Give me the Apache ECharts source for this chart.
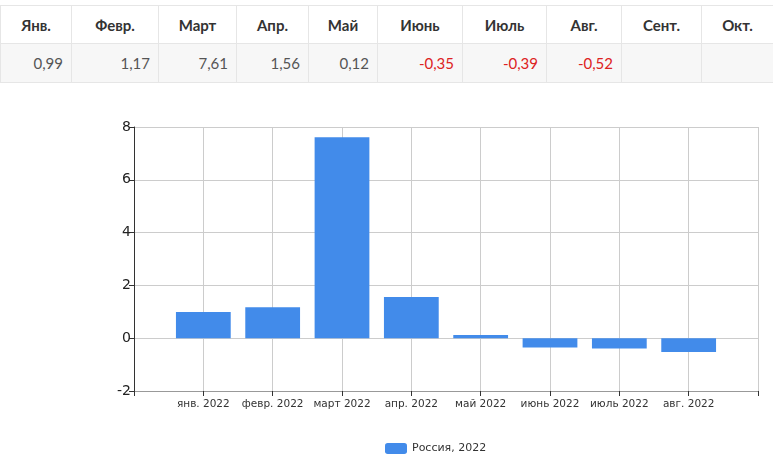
<!DOCTYPE html>
<html>
<head>
<meta charset="utf-8">
<script src="https://cdn.jsdelivr.net/npm/echarts@6/dist/echarts.min.js"></script>
<style>
  body { margin: 0; background: #fff; width: 773px; height: 466px; overflow: hidden; }
  table { position: absolute; left: 0; top: 5px; width: 773px; border-collapse: collapse; table-layout: fixed;
    font-family: Lato, "Open Sans", sans-serif; font-size: 15px; }
  th, td { border: 1px solid #e6e6e6; padding: 0 8px; box-sizing: border-box; }
  th { height: 38px; color: #333; font-weight: bold; text-align: center; }
  td { height: 39px; color: #555; text-align: right; background: #f7f7f7; }
  td.neg { color: #d22; }
  #chart { position: absolute; left: 0; top: 90px; width: 773px; height: 376px; }
</style>
</head>
<body>
<table id="tbl"><colgroup></colgroup><thead><tr></tr></thead><tbody><tr></tr></tbody></table>
<div id="chart"></div>
<script>
const tableMonths = ['Янв.', 'Февр.', 'Март', 'Апр.', 'Май', 'Июнь', 'Июль', 'Авг.', 'Сент.', 'Окт.']
const colWidths = [71, 87, 78, 72, 69, 85, 84, 75, 80, 72]
const categories = ['янв. 2022', 'февр. 2022', 'март 2022', 'апр. 2022', 'май 2022', 'июнь 2022', 'июль 2022', 'авг. 2022']
const values = [0.99, 1.17, 7.61, 1.56, 0.12, -0.35, -0.39, -0.52]
const seriesName = 'Россия, 2022'

// table
const colgroup = document.querySelector('#tbl colgroup')
const headRow = document.querySelector('#tbl thead tr')
const bodyRow = document.querySelector('#tbl tbody tr')
tableMonths.forEach((m, i) => {
  const col = document.createElement('col')
  col.style.width = colWidths[i] + 'px'
  colgroup.appendChild(col)
  const th = document.createElement('th')
  th.textContent = m
  headRow.appendChild(th)
  const td = document.createElement('td')
  const v = values[i]
  if (v !== undefined) {
    td.textContent = v.toFixed(2).replace('.', ',')
    if (v < 0) td.className = 'neg'
  }
  bodyRow.appendChild(td)
})

// chart: empty slots on both ends so bars sit on inner ticks
const xData = [''].concat(categories, [''])
const barData = [null].concat(values, [null])

const chart = echarts.init(document.getElementById('chart'))
chart.setOption({
  animation: false,
  textStyle: { fontFamily: '"DejaVu Sans", Verdana, sans-serif' },
  grid: { left: 134, right: 15, top: 37, bottom: 75 },
  legend: {
    left: 380, top: 348,
    itemWidth: 22, itemHeight: 11, itemGap: 4,
    textStyle: { fontSize: 11, color: '#333' },
    data: [seriesName]
  },
  xAxis: {
    type: 'category',
    data: xData,
    boundaryGap: false,
    axisLine: { onZero: false, lineStyle: { color: '#999' } },
    axisTick: { show: true, interval: 0, length: 5, lineStyle: { color: '#333' } },
    axisLabel: { interval: 0, fontSize: 10.5, color: '#333', margin: 8 },
    splitLine: { show: true, interval: 0, lineStyle: { color: '#ccc' } }
  },
  yAxis: {
    type: 'value',
    min: -2, max: 8, interval: 2,
    axisLine: { show: true, lineStyle: { color: '#333' } },
    axisTick: { show: true, length: 5, lineStyle: { color: '#333' } },
    axisLabel: { fontSize: 14, color: '#222', margin: 3 },
    splitLine: { lineStyle: { color: '#ccc' } }
  },
  series: [{
    name: seriesName,
    type: 'bar',
    data: barData,
    barWidth: '79%',
    itemStyle: { color: '#428bea' }
  }]
})
</script>
</body>
</html>
